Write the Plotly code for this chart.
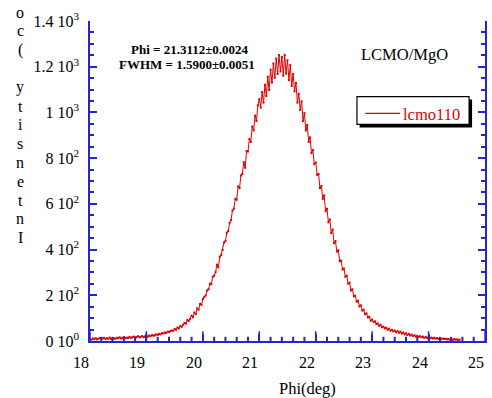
import plotly.graph_objects as go

# ---- data ----
phi_start = 18.0
phi_step = 0.025
counts = [
    9, 6, 11, 8, 12, 7, 10, 13, 9, 11, 14, 8, 12, 10, 15, 9, 13, 11, 10, 14,
    12, 16, 11, 14, 17, 12, 15, 13, 18, 14, 16, 19, 15, 17, 21, 16, 18, 22, 17, 20,
    21, 19, 24, 21, 26, 23, 25, 29, 27, 31, 29, 34, 33, 37, 35, 41, 39, 44, 46, 44,
    53, 49, 59, 55, 66, 62, 71, 79, 76, 92, 88, 97, 111, 104, 125, 118, 143, 137, 162, 158,
    184, 193, 199, 221, 226, 251, 248, 281, 286, 301, 334, 322, 369, 376, 398, 431, 437, 474, 481, 517,
    529, 571, 579, 622, 618, 676, 669, 724, 731, 782, 758, 831, 829, 884, 871, 938, 921, 986, 962, 1031,
    1058, 1021, 1089, 1043, 1121, 1072, 1156, 1098, 1187, 1131, 1214, 1152, 1236, 1168, 1251, 1179, 1243, 1161, 1252, 1170,
    1228, 1141, 1207, 1116, 1168, 1092, 1129, 1043, 1082, 1011, 1049, 962, 997, 921, 945, 871, 891, 822, 836, 774,
    781, 727, 731, 669, 678, 622, 637, 568, 579, 519, 532, 472, 488, 428, 437, 391, 397, 349, 352, 313,
    317, 281, 286, 251, 255, 221, 226, 196, 198, 172, 176, 151, 156, 133, 137, 117, 121, 103, 106, 89,
    94, 83, 86, 74, 77, 66, 71, 60, 63, 55, 58, 49, 54, 45, 49, 42, 46, 39, 43, 36,
    41, 33, 37, 29, 34, 26, 31, 24, 28, 22, 25, 19, 23, 18, 21, 16, 19, 14, 18, 13,
    17, 12, 15, 11, 14, 10, 13, 9, 12, 8, 11, 9, 10, 7, 9, 6, 9, 5, 8, 6,
    7, 5, 6,
]
phi = [round(phi_start + phi_step * i, 3) for i in range(len(counts))]

x_tickvals = [18, 19, 20, 21, 22, 23, 24, 25]
x_minorvals = [round(18 + 0.2 * i, 1) for i in range(36) if (i % 5) != 0]
y_tickvals = [0, 200, 400, 600, 800, 1000, 1200, 1400]
y_ticktext = ["0 10<sup>0</sup>", "2 10<sup>2</sup>", "4 10<sup>2</sup>", "6 10<sup>2</sup>",
              "8 10<sup>2</sup>", "1 10<sup>3</sup>", "1.2 10<sup>3</sup>", "1.4 10<sup>3</sup>"]

series_name = "lcmo110"
fit_lines = ["Phi = 21.3112±0.0024", "FWHM = 1.5900±0.0051"]
sample_label = "LCMO/MgO"
x_title = "Phi(deg)"
y_title_letters = ["o", "c", "(", " ", "y", "t", "i", "s", "n", "e", "t", "n", "I"]

# ---- styling ----
W, H = 492, 398
L, R, T, B = 90, 5, 21, 57
PW, PH = W - L - R, H - T - B
FONT = "Liberation Serif"
AX = "#2323d8"
RED = "#e00000"


def px(x):
    return (x - L) / PW


def py(y):
    return (T + PH - y) / PH


fig = go.Figure()
fig.add_trace(go.Scatter(
    x=phi, y=counts, mode="lines+markers", name=series_name,
    line=dict(color=RED, width=1),
    marker=dict(color=RED, size=2, symbol="square"),
    showlegend=False,
))
# bottom-axis tick marks (inward), half of each marker is clipped by the plot area
fig.add_trace(go.Scatter(
    x=x_tickvals, y=[0] * len(x_tickvals), mode="markers", cliponaxis=True, hoverinfo="skip",
    marker=dict(symbol="line-ns", size=14, line=dict(color=AX, width=1.5)), showlegend=False,
))
fig.add_trace(go.Scatter(
    x=x_minorvals, y=[0] * len(x_minorvals), mode="markers", cliponaxis=True, hoverinfo="skip",
    marker=dict(symbol="line-ns", size=6, line=dict(color=AX, width=2)), showlegend=False,
))

fig.update_layout(
    width=W, height=H,
    margin=dict(l=L, r=R, t=T, b=B),
    paper_bgcolor="white", plot_bgcolor="white",
    font=dict(family=FONT, size=16, color="black"),
    xaxis=dict(
        range=[18, 25], tickvals=x_tickvals, ticks="inside", ticklen=7, tickwidth=1.5,
        tickcolor=AX, showline=True, linecolor=AX, linewidth=1.5,
        showgrid=False, zeroline=False, showticklabels=False,
    ),
    yaxis=dict(
        range=[0, 1400], tickvals=y_tickvals, ticktext=y_ticktext, ticks="inside", ticklen=7,
        tickwidth=1.5, tickcolor=AX, showline=True, linecolor=AX, linewidth=1.5, mirror="ticks",
        showgrid=False, zeroline=False, ticklabelstandoff=6,
        minor=dict(dtick=50, ticks="inside", ticklen=4, tickcolor=AX, tickwidth=1.5, showgrid=False),
        tickfont=dict(family=FONT, size=16),
    ),
)

ann = []
# x tick labels (drawn as annotations so they can sit slightly left of their ticks, as in the reference)
for v in x_tickvals:
    ann.append(dict(x=v, y=0, xref="x", yref="paper", text=str(v), showarrow=False,
                    xanchor="center", yanchor="top", xshift=-9, yshift=-11,
                    font=dict(family=FONT, size=16)))
ann.append(dict(x=px(191), y=py(50), xref="paper", yref="paper", text="<b>" + fit_lines[0] + "</b>",
                showarrow=False, xanchor="center", yanchor="middle", font=dict(family=FONT, size=13)))
ann.append(dict(x=px(187), y=py(65), xref="paper", yref="paper", text="<b>" + fit_lines[1] + "</b>",
                showarrow=False, xanchor="center", yanchor="middle", font=dict(family=FONT, size=13)))
ann.append(dict(x=px(406), y=py(54), xref="paper", yref="paper", text=sample_label,
                showarrow=False, xanchor="center", yanchor="middle", font=dict(family=FONT, size=16.5)))
ann.append(dict(x=px(309), y=py(388), xref="paper", yref="paper", text=x_title,
                showarrow=False, xanchor="center", yanchor="middle", font=dict(family=FONT, size=16.5)))
for i, ch in enumerate(y_title_letters):
    if ch.strip():
        ann.append(dict(x=px(20), y=py(12 + 18.8 * i), xref="paper", yref="paper", text=ch,
                        showarrow=False, xanchor="center", yanchor="middle", font=dict(family=FONT, size=16)))
# legend text
ann.append(dict(x=px(402.5), y=py(114), xref="paper", yref="paper", text=series_name,
                showarrow=False, xanchor="left", yanchor="middle", font=dict(family=FONT, size=16.5, color=RED)))
fig.update_layout(annotations=ann)

shapes = [
    dict(type="rect", xref="paper", yref="paper", x0=px(361), x1=px(474), y0=py(127.5), y1=py(99.5),
         fillcolor="black", line=dict(width=0)),
    dict(type="rect", xref="paper", yref="paper", x0=px(358.3), x1=px(471), y0=py(124.3), y1=py(96.7),
         fillcolor="white", line=dict(color="black", width=1.2)),
    dict(type="line", xref="paper", yref="paper", x0=px(366.7), x1=px(401.7), y0=py(113.3), y1=py(113.3),
         line=dict(color=RED, width=1.2)),
]
fig.update_layout(shapes=shapes)

fig.write_html("out.html")
